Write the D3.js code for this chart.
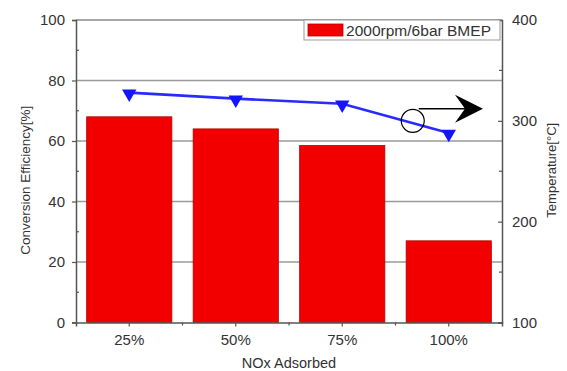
<!DOCTYPE html>
<html>
<head>
<meta charset="utf-8">
<script src="https://cdn.jsdelivr.net/npm/d3@7"></script>
<style>
  html, body { margin: 0; padding: 0; background: #fff; }
  svg { display: block; font-family: "Liberation Sans", Arial, sans-serif; }
</style>
</head>
<body>
<svg id="chart" width="567" height="371"></svg>
<script>
// NOx adsorption levels and measured results
const categories = ["25%", "50%", "75%", "100%"];
const efficiency = [68, 64, 58.5, 27];          // conversion efficiency [%]
const temperature = [328, 322, 317, 288];       // temperature [°C]
const leftTicks = [0, 20, 40, 60, 80, 100];
const leftMinor = [10, 30, 50, 70, 90];
const rightTicks = [100, 200, 300, 400];
const rightMinor = [150, 250, 350];
const seriesName = "2000rpm/6bar BMEP";

const svg = d3.select("#chart");
const m = { left: 76, right: 502, top: 20, bottom: 322.5 };
const textCol = "#333";
const axisCol = "#555";
const tickFont = 15;

const x = d3.scaleBand().domain(categories).range([m.left, m.right]).paddingInner(0.2).paddingOuter(0.1);
const yL = d3.scaleLinear().domain([0, 100]).range([m.bottom, m.top]);
const yR = d3.scaleLinear().domain([100, 400]).range([m.bottom, m.top]);

// horizontal grid lines
svg.append("g").selectAll("line").data(leftTicks.filter(v => v > 0 && v < 100)).join("line")
  .attr("x1", m.left).attr("x2", m.right)
  .attr("y1", d => yL(d)).attr("y2", d => yL(d))
  .attr("stroke", "#9a9a9a").attr("stroke-width", 1.4);

// top frame
svg.append("line").attr("x1", m.left).attr("x2", m.right)
  .attr("y1", m.top).attr("y2", m.top).attr("stroke", "#8a8a8a").attr("stroke-width", 1.4);

// bars
svg.append("g").selectAll("rect").data(efficiency).join("rect")
  .attr("x", (d, i) => x(categories[i]))
  .attr("width", x.bandwidth())
  .attr("y", d => yL(d))
  .attr("height", d => yL(0) - yL(d))
  .attr("fill", "#f20000")
  .attr("stroke", "#b80000").attr("stroke-width", 0.8);

const styleTicks = g => g.selectAll(".tick text").attr("fill", textCol).attr("font-size", tickFont)
  .attr("font-family", "Liberation Sans, Arial, sans-serif");

// left axis
const gL = svg.append("g").attr("transform", `translate(${m.left},0)`);
gL.call(d3.axisLeft(yL).tickValues(leftTicks).tickSize(4).tickPadding(7))
  .call(g => g.select(".domain").attr("stroke", axisCol).attr("stroke-width", 1.5))
  .call(g => g.selectAll(".tick line").attr("stroke", axisCol).attr("stroke-width", 1.2))
  .call(styleTicks);
gL.selectAll(".minor").data(leftMinor).join("line").attr("class", "minor")
  .attr("x1", 0).attr("x2", 3).attr("y1", d => yL(d)).attr("y2", d => yL(d))
  .attr("stroke", axisCol).attr("stroke-width", 1.2);

// right axis
const gR = svg.append("g").attr("transform", `translate(${m.right},0)`);
gR.call(d3.axisRight(yR).tickValues(rightTicks).tickSize(-4).tickPadding(10))
  .call(g => g.select(".domain").attr("stroke", axisCol).attr("stroke-width", 1.5))
  .call(g => g.selectAll(".tick line").attr("stroke", axisCol).attr("stroke-width", 1.2))
  .call(styleTicks);
gR.selectAll(".minor").data(rightMinor).join("line").attr("class", "minor")
  .attr("x1", 0).attr("x2", -3).attr("y1", d => yR(d)).attr("y2", d => yR(d))
  .attr("stroke", axisCol).attr("stroke-width", 1.2);

// bottom axis
const gB = svg.append("g").attr("transform", `translate(0,${m.bottom})`);
gB.call(d3.axisBottom(x).tickSize(4).tickPadding(8))
  .call(g => g.select(".domain").attr("stroke", axisCol).attr("stroke-width", 1.5))
  .call(g => g.selectAll(".tick line").attr("stroke", axisCol).attr("stroke-width", 1.2))
  .call(styleTicks);
const step = x.step();
gB.selectAll(".minor").data(categories.slice(1)).join("line").attr("class", "minor")
  .attr("x1", d => x(d) + x.bandwidth() / 2 - step / 2)
  .attr("x2", d => x(d) + x.bandwidth() / 2 - step / 2)
  .attr("y1", 0).attr("y2", 3)
  .attr("stroke", axisCol).attr("stroke-width", 1.2);

// temperature line with markers
const cx = c => x(c) + x.bandwidth() / 2;
const line = d3.line().x((d, i) => cx(categories[i])).y(d => yR(d));
svg.append("path").datum(temperature).attr("d", line)
  .attr("fill", "none").attr("stroke", "#2a2aff").attr("stroke-width", 2.6);
svg.append("g").selectAll("path").data(temperature).join("path")
  .attr("d", d3.symbol(d3.symbolTriangle, 90))
  .attr("transform", (d, i) => `translate(${cx(categories[i])},${yR(d) + 1}) rotate(180)`)
  .attr("fill", "#1414ff");

// annotation: circled point with arrow toward the temperature axis
const annX = cx("100%") - 36;
const annY = yR(300);
svg.append("circle").attr("cx", annX).attr("cy", annY).attr("r", 11.5)
  .attr("fill", "none").attr("stroke", "#000").attr("stroke-width", 1.2);
const arrowY = yR(312);
const tipX = m.right - 19;
svg.append("line").attr("x1", annX + 6).attr("x2", tipX - 16)
  .attr("y1", arrowY).attr("y2", arrowY).attr("stroke", "#000").attr("stroke-width", 1.3);
svg.append("path")
  .attr("d", `M${tipX},${arrowY} L${tipX - 28},${arrowY - 14} L${tipX - 18},${arrowY} L${tipX - 28},${arrowY + 14} Z`)
  .attr("fill", "#000");

// legend
const lg = svg.append("g");
lg.append("rect").attr("x", 304).attr("y", m.top).attr("width", m.right - 2 - 304).attr("height", 20)
  .attr("fill", "#fff").attr("stroke", "#9a9a9a").attr("stroke-width", 1);
lg.append("rect").attr("x", 308).attr("y", 24).attr("width", 35).attr("height", 12)
  .attr("fill", "#f20000").attr("stroke", "#b80000").attr("stroke-width", 0.8);
lg.append("text").attr("x", 346).attr("y", 36).text(seriesName)
  .attr("font-size", 15.5).attr("fill", textCol).attr("textLength", 145);

// axis titles
svg.append("text").attr("transform", `translate(30,${(m.top + m.bottom) / 2 + 9}) rotate(-90)`)
  .attr("text-anchor", "middle").attr("font-size", 13.5).attr("fill", textCol)
  .text("Conversion Efficiency[%]");
svg.append("text").attr("transform", `translate(556,${(m.top + m.bottom) / 2 - 1}) rotate(-90)`)
  .attr("text-anchor", "middle").attr("font-size", 13).attr("fill", textCol)
  .text("Temperature[°C]");
svg.append("text").attr("x", (m.left + m.right) / 2).attr("y", 368)
  .attr("text-anchor", "middle").attr("font-size", 14.5).attr("fill", textCol)
  .text("NOx Adsorbed");
</script>
</body>
</html>
